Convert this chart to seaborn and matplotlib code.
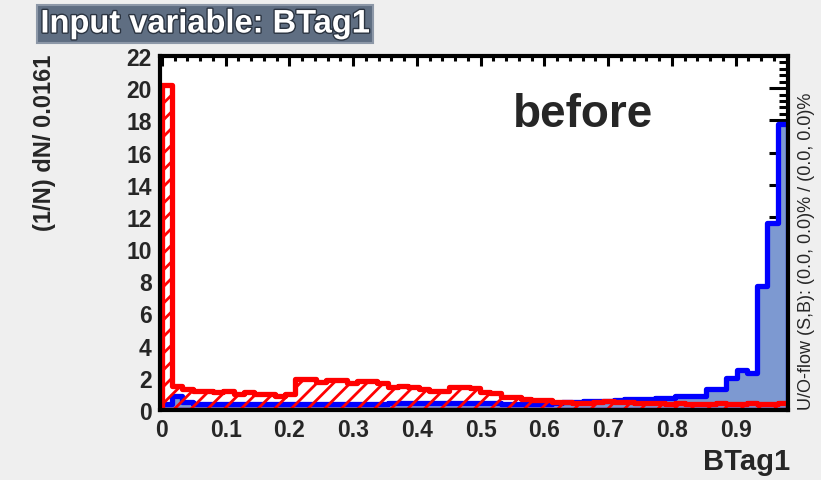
import numpy as np
import pandas as pd
import matplotlib
matplotlib.use("Agg")
import matplotlib.pyplot as plt
import matplotlib.patheffects as pe
from matplotlib.ticker import MultipleLocator
import seaborn as sns

# ---- data ----
bin_width = 0.0161
n_bins = 61
background = [20.2, 1.5, 1.3, 1.2, 1.2, 1.1, 1.2, 1.0, 1.1, 1.0,
              1.0, 0.9, 1.0, 1.9, 1.9, 1.75, 1.85, 1.85, 1.65, 1.8,
              1.8, 1.65, 1.4, 1.5, 1.4, 1.3, 1.2, 1.2, 1.4, 1.4,
              1.35, 1.1, 1.05, 0.8, 0.8, 0.7, 0.65, 0.6, 0.5, 0.5,
              0.45, 0.45, 0.5, 0.55, 0.5, 0.5, 0.45, 0.45, 0.45, 0.4,
              0.45, 0.4, 0.4, 0.4, 0.45, 0.4, 0.4, 0.45, 0.4, 0.4, 0.45]
signal = [0.4, 0.9, 0.5, 0.35, 0.35, 0.35, 0.35, 0.35, 0.35, 0.35,
          0.35, 0.35, 0.35, 0.4, 0.4, 0.4, 0.4, 0.4, 0.4, 0.4,
          0.4, 0.4, 0.45, 0.45, 0.45, 0.45, 0.45, 0.45, 0.45, 0.45,
          0.45, 0.45, 0.45, 0.4, 0.4, 0.4, 0.4, 0.4, 0.45, 0.5,
          0.5, 0.55, 0.55, 0.55, 0.6, 0.7, 0.7, 0.7, 0.75, 0.75,
          0.9, 0.9, 0.9, 1.3, 1.3, 2.0, 2.5, 2.3, 7.7, 11.6, 17.8]
x_ticks = [0, 0.1, 0.2, 0.3, 0.4, 0.5, 0.6, 0.7, 0.8, 0.9]
x_tick_labels = ["0", "0.1", "0.2", "0.3", "0.4", "0.5", "0.6", "0.7", "0.8", "0.9"]
y_ticks = list(range(0, 23, 2))

edges = [i * bin_width for i in range(n_bins + 1)]
centers = [(edges[i] + edges[i + 1]) / 2 for i in range(n_bins)]
df = pd.DataFrame({"x": centers, "sig": signal, "bkg": background})

# ---- style ----
sns.set_style("white")
plt.rcParams["font.family"] = ["Liberation Sans", "DejaVu Sans"]
plt.rcParams["hatch.color"] = "#ff0000"
plt.rcParams["hatch.linewidth"] = 2.0

W, H = 821, 481
fig = plt.figure(figsize=(W / 100, H / 100), dpi=100, facecolor="#efefef")
ax = fig.add_axes([160 / W, 1 - 411 / H, (788 - 160) / W, (411 - 57) / H])
ax.set_facecolor("white")

sns.histplot(data=df, x="x", weights="sig", bins=edges, element="step",
             fill=True, color="#0000ff", facecolor="#7d99d1",
             edgecolor="#0000ff", alpha=1, linewidth=3.8, ax=ax)
sns.histplot(data=df, x="x", weights="bkg", bins=edges, element="step",
             fill=True, color="#ff0000", facecolor="none",
             edgecolor="#ff0000", linewidth=3.8, hatch="//", ax=ax)

ax.set_xlim(-0.003, edges[-1])
ax.set_ylim(0, 22)
ax.set_xlabel("")
ax.set_ylabel("")

ax.set_xticks(x_ticks)
ax.set_xticklabels(x_tick_labels)
ax.set_yticks(y_ticks)
ax.xaxis.set_minor_locator(MultipleLocator(0.02))
ax.yaxis.set_minor_locator(MultipleLocator(0.4))
ax.tick_params(axis="both", which="both", direction="in", top=True,
               right=True, width=2.2, color="black", zorder=6)
ax.tick_params(axis="y", which="major", length=13.5, pad=6)
ax.tick_params(axis="y", which="minor", length=6.5)
ax.tick_params(axis="x", which="major", length=7.5, pad=6)
ax.tick_params(axis="x", which="minor", length=3.8)
for lab in ax.get_xticklabels() + ax.get_yticklabels():
    lab.set_fontsize(16.5)
    lab.set_fontweight("bold")
for sp in ax.spines.values():
    sp.set_visible(True)
    sp.set_color("black")
    sp.set_linewidth(3.0)
    sp.set_zorder(5)

# ---- texts ----
fig.text(513 / W, 1 - 127 / H, "before",
         fontsize=33, fontweight="bold", ha="left", va="baseline")
fig.text(45 / W, 1 - 55 / H, "(1/N) dN/ 0.0161", rotation=90,
         fontsize=17, fontweight="bold", ha="center", va="top")
fig.text(790 / W, 1 - 462 / H, "BTag1", fontsize=21, fontweight="bold",
         ha="right", va="center")
fig.text(806 / W, 1 - 410 / H, "U/O-flow (S,B): (0.0, 0.0)% / (0.0, 0.0)%",
         rotation=90, fontsize=13, ha="center", va="bottom")
fig.text(205 / W, 1 - 25 / H, "Input variable: BTag1", fontsize=23.5,
         fontweight="bold", color="white", ha="center", va="center",
         path_effects=[pe.withStroke(linewidth=2, foreground="#2a3340")],
         bbox=dict(boxstyle="square,pad=0.1", facecolor="#5f6e82",
                   edgecolor="#8d98a8", linewidth=1.5))

fig.savefig("out.png", dpi=100, facecolor=fig.get_facecolor())
